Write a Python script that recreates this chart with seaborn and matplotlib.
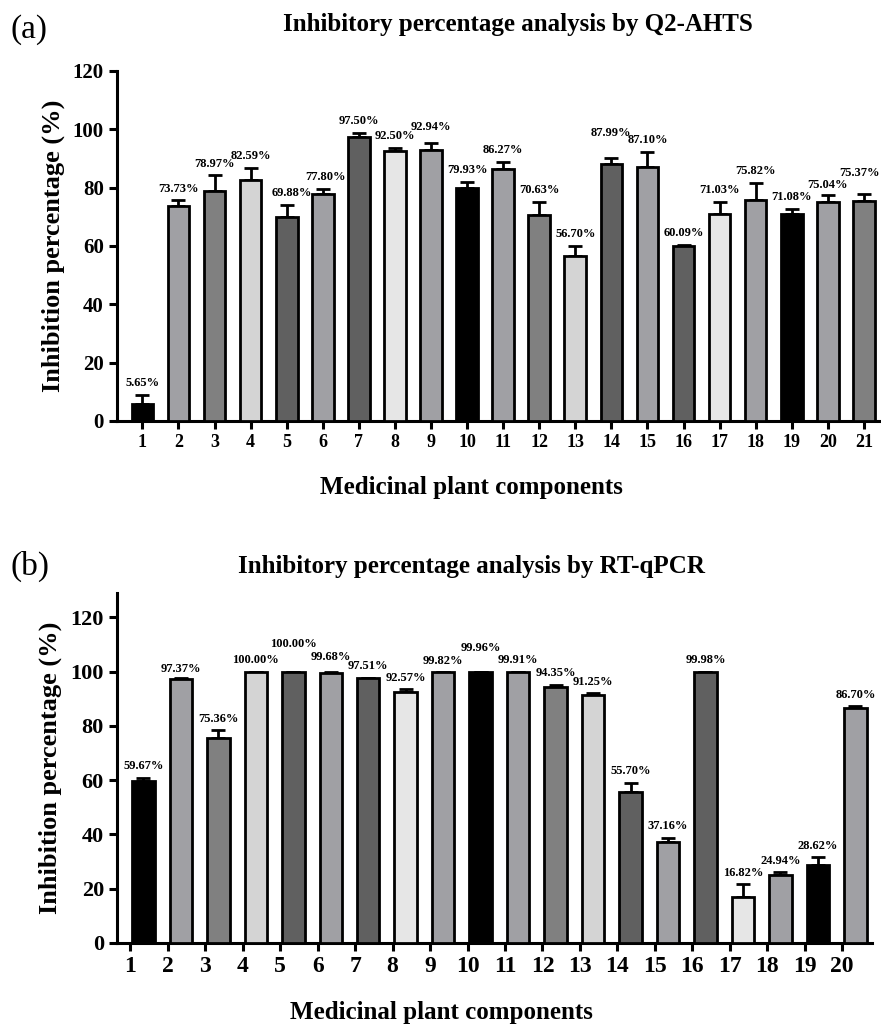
import numpy as np
import pandas as pd
import matplotlib
matplotlib.use("Agg")
import matplotlib.pyplot as plt
import seaborn as sns

# Panel (a): Q2-AHTS
ahts_ids = [str(i) for i in range(1, 22)]
ahts_mean = [5.65, 73.73, 78.97, 82.59, 69.88, 77.80, 97.50, 92.50, 92.94, 79.93,
             86.27, 70.63, 56.70, 87.99, 87.10, 60.09, 71.03, 75.82, 71.08, 75.04, 75.37]
ahts_err = [3.3, 1.9, 5.2, 4.2, 4.2, 1.8, 1.3, 1.2, 2.4, 2.1,
            2.5, 4.6, 3.2, 2.1, 5.2, 0.4, 4.2, 5.9, 1.5, 2.4, 2.6]

# Panel (b): RT-qPCR
qpcr_ids = [str(i) for i in range(1, 21)]
qpcr_mean = [59.67, 97.37, 75.36, 100.00, 100.00, 99.68, 97.51, 92.57, 99.82, 99.96,
             99.91, 94.35, 91.25, 55.70, 37.16, 99.98, 16.82, 24.94, 28.62, 86.70]
qpcr_err = [1.2, 0.4, 3.0, 0.0, 0.0, 0.1, 0.3, 0.9, 0.0, 0.0,
            0.0, 0.9, 0.9, 3.4, 1.6, 0.0, 4.8, 1.2, 3.0, 0.6]

# grey cycle used by both panels
grey_cycle = ["#000000", "#a0a0a4", "#808080", "#d4d4d4", "#606060",
              "#a0a0a4", "#606060", "#e6e6e6", "#a0a0a4"]

sns.set_theme(style="ticks")
plt.rcParams["font.family"] = ["Liberation Serif", "DejaVu Serif"]
plt.rcParams["font.weight"] = "bold"
plt.rcParams["text.color"] = "black"
plt.rcParams["axes.labelcolor"] = "black"
plt.rcParams["xtick.color"] = "black"
plt.rcParams["ytick.color"] = "black"


def draw_panel(ax, ids, means, errs, tick_shift, ylim, tick_fs, lifts, shifts, xlab_pos):
    df = pd.DataFrame({"comp": ids, "value": means})
    colors = [grey_cycle[i % len(grey_cycle)] for i in range(len(ids))]
    sns.barplot(data=df, x="comp", y="value", hue="comp", palette=colors,
                legend=False, width=0.6, edgecolor="black", linewidth=2.0,
                ax=ax, zorder=3)
    xs = np.arange(len(ids))
    ax.errorbar(xs, means, yerr=[np.zeros(len(errs)), errs], fmt="none",
                ecolor="black", elinewidth=2.0, capsize=5, capthick=2.0, zorder=2)
    # value labels above the error caps, a few nudged to avoid collisions
    for i, (m, e) in enumerate(zip(means, errs)):
        ax.text(i + shifts.get(i, 0), m + e + 2.0 + lifts.get(i, 0), f"{m:.2f}%",
                ha="center", va="bottom", fontsize=9, fontweight="bold", color="black")
    ax.set_xlim(xs[0] - 0.7, xs[-1] + 0.45)
    ax.set_ylim(*ylim)
    ax.set_yticks([0, 20, 40, 60, 80, 100, 120])
    ax.set_xticks(xs + tick_shift, ids)
    sns.despine(ax=ax)
    for s in ["left", "bottom"]:
        ax.spines[s].set_linewidth(2.2)
        ax.spines[s].set_color("black")
    ax.tick_params(axis="both", width=2.2, length=6, color="black")
    ax.tick_params(axis="x", labelsize=tick_fs[0])
    ax.tick_params(axis="y", labelsize=tick_fs[1])
    for lab in ax.get_xticklabels() + ax.get_yticklabels():
        lab.set_fontweight("bold")
    ax.set_ylabel("Inhibition percentage (%)", fontsize=19, fontweight="bold", labelpad=6)
    ax.set_xlabel("Medicinal plant components", fontsize=18, fontweight="bold")
    ax.xaxis.label.set_va("center")
    ax.xaxis.set_label_coords(*xlab_pos)


fig = plt.figure(figsize=(8.81, 10.28), dpi=100)
ax_a = fig.add_axes([0.133, 0.5905, 0.866, 0.3405])
ax_b = fig.add_axes([0.133, 0.0827, 0.857, 0.3405])

draw_panel(ax_a, ahts_ids, ahts_mean, ahts_err, 0.0, (0, 120), (13, 15),
           {8: 1.5, 13: 4.5, 19: -0.5, 20: 3.0}, {4: 0.15, 5: 0.08, 20: -0.12},
           (0.464, -0.189))
draw_panel(ax_b, qpcr_ids, qpcr_mean, qpcr_err, -0.35, (0, 129), (17, 16),
           {1: -1.0, 4: 6.0, 5: 1.5, 9: 4.5}, {},
           (0.429, -0.2))

fig.text(0.588, 0.9757, "Inhibitory percentage analysis by Q2-AHTS", ha="center",
         va="center", fontsize=18, fontweight="bold")
fig.text(0.535, 0.4494, "Inhibitory percentage analysis by RT-qPCR", ha="center",
         va="center", fontsize=18, fontweight="bold")
fig.text(0.012, 0.971, "(a)", ha="left", va="center", fontsize=24, fontweight="normal")
fig.text(0.012, 0.449, "(b)", ha="left", va="center", fontsize=24, fontweight="normal")

fig.savefig("out.png", dpi=100)
